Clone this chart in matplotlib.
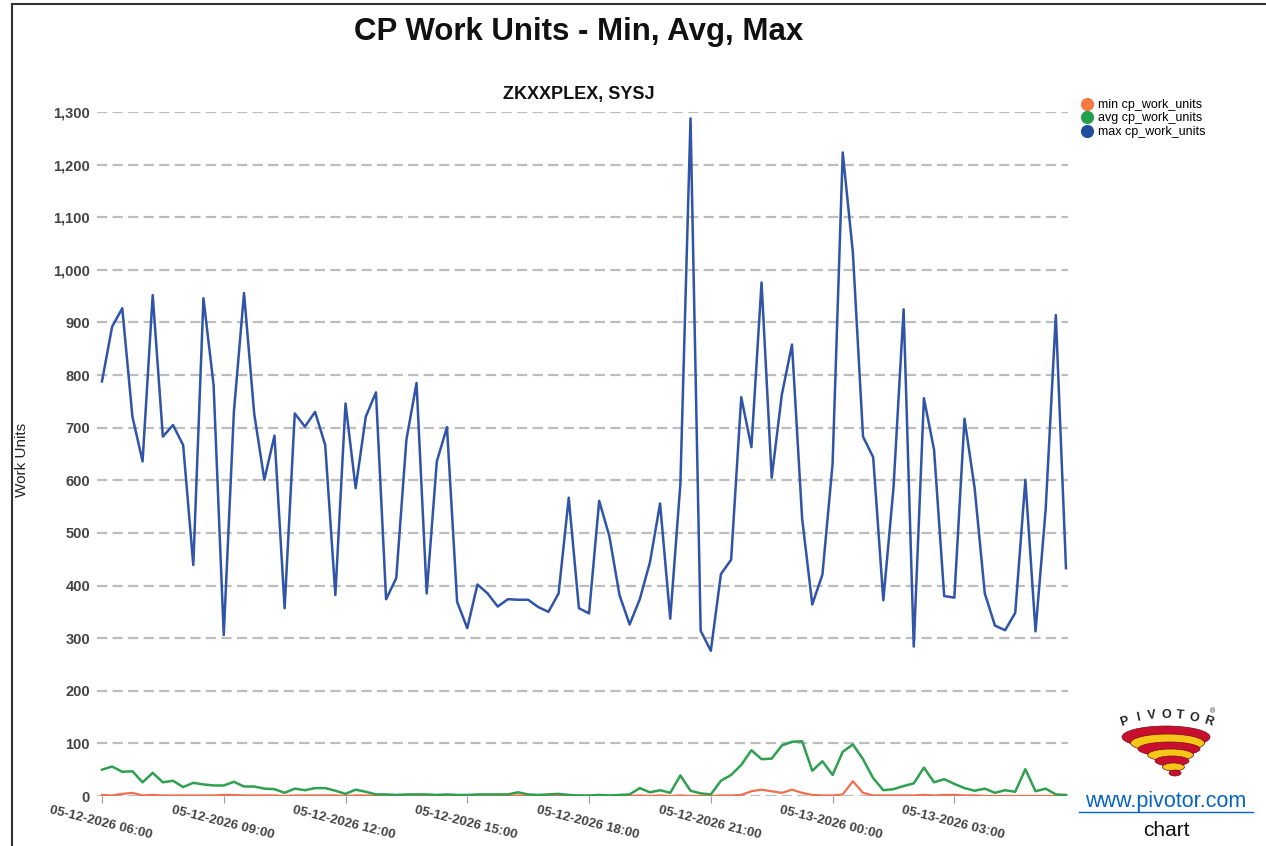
import matplotlib
matplotlib.use("Agg")
import matplotlib.pyplot as plt
from matplotlib.patches import Ellipse
from matplotlib.lines import Line2D

plt.rcParams['font.family'] = ['Liberation Sans', 'DejaVu Sans']

# ---- data ----
tick_labels = ["05-12-2026 06:00", "05-12-2026 09:00", "05-12-2026 12:00",
               "05-12-2026 15:00", "05-12-2026 18:00", "05-12-2026 21:00",
               "05-13-2026 00:00", "05-13-2026 03:00"]
tick_index = [0, 12, 24, 36, 48, 60, 72, 84]

max_units = [788, 892, 927, 721, 636, 952, 683, 705, 667, 439,
             946, 781, 306, 730, 956, 727, 601, 685, 357, 727,
             702, 730, 667, 382, 746, 585, 721, 767, 374, 414,
             677, 785, 385, 636, 701, 369, 319, 402, 385, 360,
             374, 373, 373, 359, 350, 385, 567, 357, 347, 561,
             494, 382, 326, 374, 444, 556, 337, 593, 1288, 314,
             276, 422, 449, 758, 663, 976, 605, 763, 858, 527,
             364, 421, 631, 1223, 1033, 683, 644, 372, 585, 925,
             284, 756, 658, 380, 377, 717, 585, 385, 324, 315,
             348, 601, 313, 545, 914, 433]

avg_units = [50, 56, 46, 47, 26, 44, 26, 29, 17, 25,
             22, 20, 20, 27, 18, 18, 14, 13, 6, 14,
             11, 15, 15, 10, 4, 12, 8, 3, 3, 2,
             3, 3, 3, 2, 3, 2, 2, 3, 3, 3,
             3, 7, 3, 2, 3, 4, 2, 1, 1, 2,
             1, 2, 3, 15, 7, 11, 6, 39, 10, 5,
             3, 29, 40, 59, 87, 70, 71, 96, 103, 104,
             48, 66, 40, 84, 98, 70, 34, 11, 13, 19,
             24, 54, 26, 32, 23, 15, 10, 14, 6, 11,
             8, 51, 9, 14, 3, 2]

min_units = [2, 1, 4, 6, 1, 2, 1, 1, 1, 1,
             1, 1, 2, 2, 1, 1, 1, 1, 0, 1,
             1, 1, 1, 1, 0, 1, 1, 0, 0, 0,
             0, 0, 0, 0, 0, 0, 0, 0, 0, 0,
             0, 1, 0, 0, 0, 1, 0, 0, 0, 0,
             0, 0, 0, 1, 0, 1, 0, 1, 0, 0,
             0, 1, 1, 2, 9, 12, 9, 6, 12, 6,
             2, 1, 1, 3, 28, 6, 1, 1, 1, 1,
             1, 2, 1, 2, 2, 1, 1, 0, 0, 0,
             0, 0, 0, 0, 0, 0]

series_names = ["min cp_work_units", "avg cp_work_units", "max cp_work_units"]
line_colors = ['#F0704E', '#2EA04F', '#2F54A8']
legend_colors = ['#F47A42', '#22A04B', '#1F4E9E']

W, H = 1266, 846
fig = plt.figure(figsize=(W / 100, H / 100), dpi=100)

ax = fig.add_axes([97 / W, 1 - 796 / H, (1068 - 97) / W, (796 - 112) / H])
x = list(range(len(max_units)))
ax.plot(x, min_units, color=line_colors[0], lw=1.6, zorder=3)
ax.plot(x, avg_units, color=line_colors[1], lw=1.8, zorder=4)
ax.plot(x, max_units, color=line_colors[2], lw=1.8, zorder=5)

ax.set_ylim(0, 1300)
ax.set_xlim(-0.49, 95.2)
yt = list(range(0, 1301, 100))
ax.set_yticks(yt)
ax.set_yticklabels([f"{v:,}" for v in yt], fontsize=10.5, fontweight='bold', color='#444444')
for v in yt:
    ax.axhline(v, color='#bdbdbd', lw=1.6, dashes=(4.6, 2.4), zorder=1)
for s in ax.spines.values():
    s.set_visible(False)
ax.tick_params(axis='y', length=0, pad=5)
ax.set_xticks(tick_index)
ax.set_xticklabels(tick_labels, rotation=-14, ha='center', rotation_mode='anchor',
                   fontsize=9.5, fontweight='bold', color='#444444')
ax.tick_params(axis='x', length=5, color='#999999', pad=10)

fig.text(22 / W, 1 - 460 / H, "Work Units", rotation=90, ha='center', va='center',
         fontsize=11, color='#222222')

fig.text(579 / W, 1 - 32 / H, "CP Work Units - Min, Avg, Max", ha='center', va='center',
         fontsize=22.5, fontweight='bold', color='#111111')
fig.text(579 / W, 1 - 95 / H, "ZKXXPLEX, SYSJ", ha='center', va='center',
         fontsize=13, fontweight='bold', color='#111111')

# legend
handles = [Line2D([0], [0], marker='o', color='none', markerfacecolor=c, markeredgecolor=c,
                  markersize=8.5) for c in legend_colors]
fig.legend(handles, series_names, loc='upper left', bbox_to_anchor=(1081 / W, 1 - 99 / H),
           frameon=False, fontsize=9, handletextpad=0.4, labelspacing=0.12,
           handlelength=1.0, borderpad=0, borderaxespad=0)

# border
fig.add_artist(Line2D([12 / W, 12 / W], [0, 1 - 4 / H], color='#333333', lw=1.5))
fig.add_artist(Line2D([12 / W, 1], [1 - 4 / H, 1 - 4 / H], color='#333333', lw=1.5))

# simple logo approximation
lx, ly = 1166, 745
for i, (w, h, c) in enumerate([(88, 22, '#C8102E'), (74, 18, '#F5C518'), (62, 14, '#C8102E'),
                               (46, 12, '#F5C518'), (34, 10, '#C8102E'), (22, 8, '#F5C518'),
                               (12, 6, '#C8102E')]):
    cy = ly - 8 + i * 6
    fig.add_artist(Ellipse(((lx + i * 1.5) / W, 1 - cy / H), w / W, h / H,
                           facecolor=c, edgecolor='#7a0a1a', lw=0.5))
letters = "PIVOTOR"
for i, ch in enumerate(letters):
    t = (i - 3) / 3.0
    px = lx + t * 42
    py = 722 - (1 - t * t) * 7
    fig.text(px / W, 1 - py / H, ch, ha='center', va='center', fontsize=9,
             fontweight='bold', color='#222222', rotation=-t * 18)
fig.text(1213 / W, 1 - 712 / H, "®", ha='center', va='center', fontsize=5, color='#222222')

fig.text(1166 / W, 1 - 801 / H, "www.pivotor.com", ha='center', va='center',
         fontsize=15.5, color='#0563C1')
fig.add_artist(Line2D([1079 / W, 1253 / W], [1 - 812 / H, 1 - 812 / H], color='#0563C1', lw=1))
fig.text(1166 / W, 1 - 830 / H, "chart", ha='center', va='center', fontsize=15, color='#111111')

fig.savefig("out.png", dpi=100)
